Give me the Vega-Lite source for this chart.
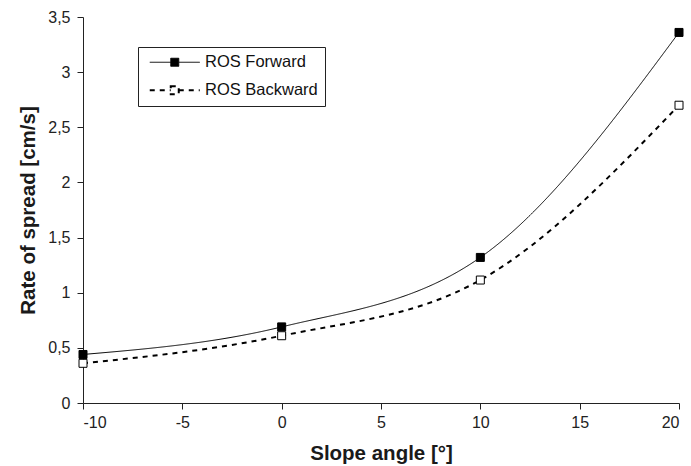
{
  "$schema": "https://vega.github.io/schema/vega-lite/v6.json",
  "width": 596,
  "height": 386,
  "autosize": {"type": "none"},
  "padding": {"left": 83, "top": 17, "right": 12, "bottom": 63},
  "background": "white",
  "config": {
    "view": {"stroke": null},
    "font": "Liberation Sans",
    "axis": {
      "grid": false,
      "domainColor": "#222",
      "domainWidth": 1,
      "tickColor": "#222",
      "tickSize": 6,
      "tickWidth": 1,
      "labelFont": "Liberation Sans",
      "labelFontSize": 16,
      "labelColor": "#222",
      "titleFont": "Liberation Sans",
      "titleFontSize": 20.5,
      "titleFontWeight": "bold",
      "titleColor": "#1a1a1a"
    }
  },
  "data": {
    "values": [
      {"x": -10, "y": 0.44, "series": "ROS Forward"},
      {"x": 0, "y": 0.69, "series": "ROS Forward"},
      {"x": 10, "y": 1.32, "series": "ROS Forward"},
      {"x": 20, "y": 3.36, "series": "ROS Forward"},
      {"x": -10, "y": 0.36, "series": "ROS Backward"},
      {"x": 0, "y": 0.61, "series": "ROS Backward"},
      {"x": 10, "y": 1.115, "series": "ROS Backward"},
      {"x": 20, "y": 2.7, "series": "ROS Backward"}
    ]
  },
  "encoding": {
    "x": {
      "field": "x",
      "type": "quantitative",
      "scale": {"domain": [-10, 20], "nice": false, "zero": false},
      "axis": {
        "title": "Slope angle [°]",
        "values": [-10, -5, 0, 5, 10, 15, 20],
        "labelExpr": "'' + datum.value",
        "labelPadding": 5,
        "titlePadding": 13
      }
    },
    "y": {
      "field": "y",
      "type": "quantitative",
      "scale": {"domain": [0, 3.5], "nice": false},
      "axis": {
        "title": "Rate of spread [cm/s]",
        "values": [0, 0.5, 1, 1.5, 2, 2.5, 3, 3.5],
        "labelExpr": "replace('' + datum.value, '.', ',')",
        "labelPadding": 7,
        "titlePadding": 9
      }
    }
  },
  "layer": [
    {
      "mark": {"type": "line", "interpolate": "monotone", "color": "black"},
      "encoding": {
        "strokeDash": {
          "field": "series",
          "type": "nominal",
          "scale": {"domain": ["ROS Forward", "ROS Backward"], "range": [[1, 0], [5, 5]]},
          "legend": {
            "orient": "none", "legendX": 55, "legendY": 30, "title": null,
            "symbolType": "M-6.25,0H-1M1,0H6.25M-1,-1H1V1H-1Z",
            "symbolSize": 64, "symbolOffset": 21.5, "labelOffset": 22,
            "symbolStrokeColor": "black",
            "labelFont": "Liberation Sans", "labelFontSize": 16.5, "labelColor": "#111",
            "strokeColor": "#222", "fillColor": "white", "padding": 7, "rowPadding": 11
          }
        },
        "strokeWidth": {
          "field": "series",
          "type": "nominal",
          "scale": {"domain": ["ROS Forward", "ROS Backward"], "range": [1, 2]},
          "legend": {
            "orient": "none", "legendX": 55, "legendY": 30, "title": null,
            "symbolType": "M-6.25,0H-1M1,0H6.25M-1,-1H1V1H-1Z",
            "symbolSize": 64, "symbolOffset": 21.5, "labelOffset": 22,
            "symbolStrokeColor": "black",
            "labelFont": "Liberation Sans", "labelFontSize": 16.5, "labelColor": "#111",
            "strokeColor": "#222", "fillColor": "white", "padding": 7, "rowPadding": 11
          }
        }
      }
    },
    {
      "mark": {"type": "point", "shape": "square", "filled": true, "size": 64, "stroke": "black", "strokeWidth": 1, "opacity": 1},
      "encoding": {
        "fill": {
          "field": "series",
          "type": "nominal",
          "scale": {"domain": ["ROS Forward", "ROS Backward"], "range": ["black", "white"]},
          "legend": {
            "orient": "none", "legendX": 55, "legendY": 30, "title": null,
            "symbolType": "M-6.25,0H-1M1,0H6.25M-1,-1H1V1H-1Z",
            "symbolSize": 64, "symbolOffset": 21.5, "labelOffset": 22,
            "symbolStrokeColor": "black",
            "labelFont": "Liberation Sans", "labelFontSize": 16.5, "labelColor": "#111",
            "strokeColor": "#222", "fillColor": "white", "padding": 7, "rowPadding": 11
          }
        }
      }
    }
  ]
}
